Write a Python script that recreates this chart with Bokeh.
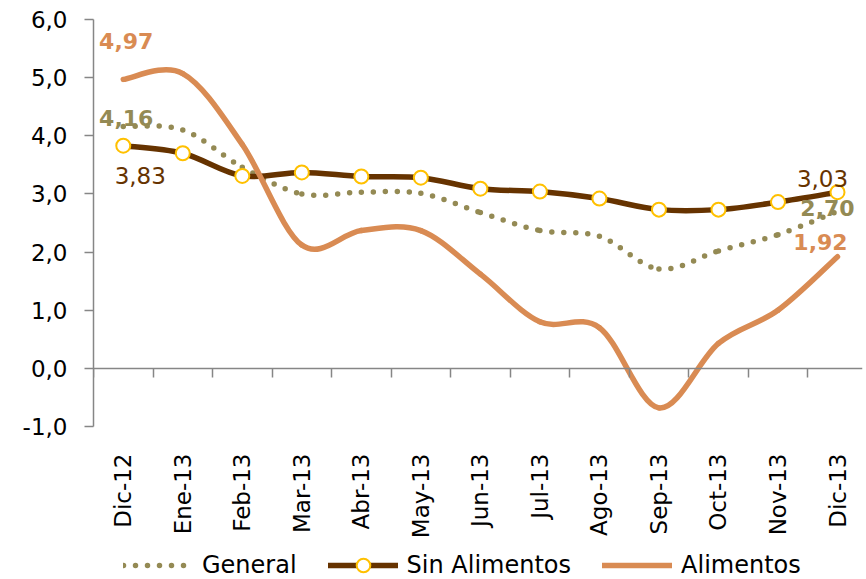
import numpy as np
from bokeh.plotting import figure
from bokeh.models import (FixedTicker, LinearAxis, Range1d, Legend, LegendItem,
                          ColumnDataSource)
from bokeh.embed import file_html
from bokeh.resources import INLINE
from bokeh.core.properties import value

# ---------------- data ----------------
months = ["Dic-12", "Ene-13", "Feb-13", "Mar-13", "Abr-13", "May-13", "Jun-13",
          "Jul-13", "Ago-13", "Sep-13", "Oct-13", "Nov-13", "Dic-13"]
general = [4.16, 4.10, 3.46, 3.00, 3.03, 3.01, 2.68, 2.37, 2.27, 1.71, 2.02, 2.30, 2.70]
sin_alimentos = [3.83, 3.70, 3.31, 3.37, 3.30, 3.28, 3.09, 3.04, 2.92, 2.73, 2.73, 2.86, 3.03]
alimentos = [4.97, 5.07, 3.85, 2.12, 2.37, 2.37, 1.62, 0.80, 0.70, -0.68, 0.43, 1.00, 1.92]
y_ticks = [-1, 0, 1, 2, 3, 4, 5, 6]
y_tick_labels = ["-1,0", "0,0", "1,0", "2,0", "3,0", "4,0", "5,0", "6,0"]
series_names = ["General", "Sin Alimentos", "Alimentos"]

# ---------------- styles ----------------
C_GEN = "#948A54"
C_SIN = "#663300"
C_ALI = "#D98B53"
C_MARK = "#FFC000"
C_AXIS = "#868686"
FONT = "DejaVu Sans"

x_idx = list(range(len(months)))
y_min, y_max = y_ticks[0], y_ticks[-1]


def smooth_source(vals):
    """Catmull-Rom style Bezier control points (like spreadsheet 'smoothed line')."""
    y = np.asarray(vals, dtype=float)
    x = np.arange(len(y), dtype=float)
    xp = np.concatenate([[x[0]], x, [x[-1]]])
    yp = np.concatenate([[y[0]], y, [y[-1]]])
    i = np.arange(len(y) - 1)
    return ColumnDataSource(dict(
        x0=x[:-1], y0=y[:-1], x1=x[1:], y1=y[1:],
        cx0=x[:-1] + (xp[i + 2] - xp[i]) / 6.0,
        cy0=y[:-1] + (yp[i + 2] - yp[i]) / 6.0,
        cx1=x[1:] - (xp[i + 3] - xp[i + 1]) / 6.0,
        cy1=y[1:] - (yp[i + 3] - yp[i + 1]) / 6.0,
    ))


# frame extends below the value area so that month labels and legend fit inside it
PX_PER_UNIT = 407 / 7.0
FRAME_H = 560
y_bottom = y_max - FRAME_H / PX_PER_UNIT

p = figure(width=866, height=579,
           x_range=Range1d(-0.5, 12.42), y_range=Range1d(y_bottom, y_max),
           output_backend="svg", toolbar_location=None,
           x_axis_location=None, y_axis_location="left",
           min_border_left=93, min_border_right=4,
           min_border_top=19, min_border_bottom=0)
p.outline_line_color = None
p.grid.visible = False
p.background_fill_color = "white"
p.border_fill_color = "white"

# y axis
ya = p.yaxis[0]
ya.bounds = (y_min, y_max)
ya.ticker = FixedTicker(ticks=y_ticks)
ya.major_label_overrides = dict(zip(y_ticks, y_tick_labels))
ya.axis_line_color = C_AXIS
ya.axis_line_width = 1.5
ya.major_tick_line_color = C_AXIS
ya.major_tick_line_width = 1.5
ya.major_tick_out = 9
ya.major_tick_in = 0
ya.minor_tick_line_color = None
ya.major_label_standoff = 17
ya.major_label_text_font = FONT
ya.major_label_text_font_size = "23px"
ya.major_label_text_color = "black"

# horizontal axis line at y = 0 with ticks between categories
zero_axis = LinearAxis(fixed_location=0,
                       ticker=FixedTicker(ticks=[i - 0.5 for i in range(len(months) + 1)]),
                       axis_line_color=C_AXIS, axis_line_width=1.5,
                       major_tick_line_color=C_AXIS, major_tick_line_width=1.5,
                       major_tick_out=9, major_tick_in=0,
                       minor_tick_line_color=None,
                       major_label_text_alpha=0.0,
                       major_label_text_font_size="1px")
p.add_layout(zero_axis, "below")

# month labels under the value area
p.text(x=x_idx, y=[y_min] * len(months), text=months,
       angle=np.pi / 2, y_offset=27,
       text_font=value(FONT), text_font_size="23px", text_color="black",
       text_align="right", text_baseline="middle")

# series
gen_r = p.bezier(x0="x0", y0="y0", x1="x1", y1="y1", cx0="cx0", cy0="cy0",
                 cx1="cx1", cy1="cy1", source=smooth_source(general),
                 line_color=C_GEN, line_width=5.5, line_dash="0 12", line_cap="round")
sin_r = p.bezier(x0="x0", y0="y0", x1="x1", y1="y1", cx0="cx0", cy0="cy0",
                 cx1="cx1", cy1="cy1", source=smooth_source(sin_alimentos),
                 line_color=C_SIN, line_width=5.5, line_cap="round")
sin_m = p.scatter(x=x_idx, y=sin_alimentos, size=14, marker="circle",
                  fill_color="white", line_color=C_MARK, line_width=2)
ali_r = p.bezier(x0="x0", y0="y0", x1="x1", y1="y1", cx0="cx0", cy0="cy0",
                 cx1="cx1", cy1="cy1", source=smooth_source(alimentos),
                 line_color=C_ALI, line_width=5.5, line_cap="round")


def fmt(v):
    return f"{v:.2f}".replace(".", ",")


def label(i, vals, color, bold, dx, dy, size):
    p.text(x=[x_idx[i]], y=[vals[i]], text=[fmt(vals[i])],
           x_offset=dx, y_offset=dy,
           text_font=value(FONT), text_font_size=size,
           text_font_style="bold" if bold else "normal",
           text_color=color, text_align="center", text_baseline="middle")


last = len(months) - 1
label(0, alimentos, C_ALI, True, 3, -38, "22px")
label(0, general, C_GEN, True, 3, -8, "22px")
label(0, sin_alimentos, C_SIN, False, 17, 30, "23px")
label(last, sin_alimentos, C_SIN, False, -15, -14, "23px")
label(last, general, C_GEN, True, -10, -3, "22px")
label(last, alimentos, C_ALI, True, -17, -15, "22px")

legend = Legend(items=[LegendItem(label=series_names[0], renderers=[gen_r]),
                       LegendItem(label=series_names[1], renderers=[sin_r, sin_m]),
                       LegendItem(label=series_names[2], renderers=[ali_r])],
                orientation="horizontal", location=(30, -3),
                glyph_width=70, glyph_height=34, label_standoff=9, spacing=31,
                padding=0, margin=0, border_line_color=None,
                background_fill_alpha=0,
                label_text_font=FONT, label_text_font_size="24px",
                label_text_color="black")
p.add_layout(legend, "center")

open("out.html", "w").write(file_html(p, INLINE))
